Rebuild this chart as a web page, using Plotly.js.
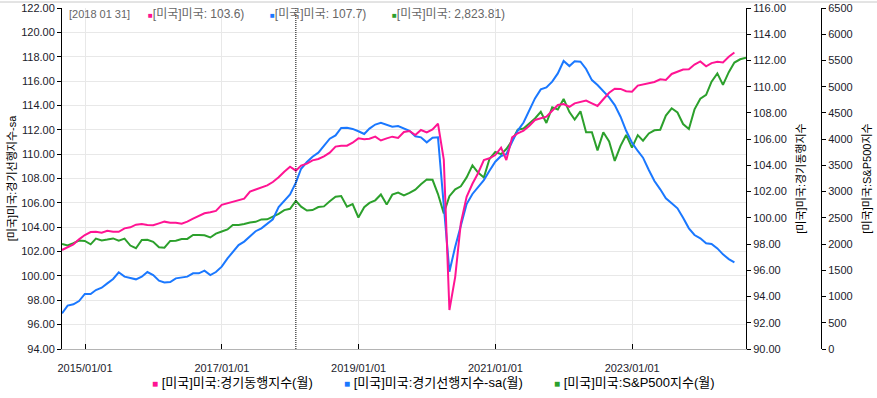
<!DOCTYPE html>
<html>
<head>
<meta charset="utf-8">
<script src="https://cdn.plot.ly/plotly-3.0.1.min.js"></script>
<style>html,body{margin:0;padding:0;background:#fff;}#chart{width:877px;height:398px;}</style>
</head>
<body>
<div id="chart"></div>
<script>
// Monthly series, month-end dates, first month 2014-08
const startYear = 2014, startMonth = 8;

// [미국]미국:경기동행지수 (right axis 1)
const coincident = [97.55,97.78,97.98,98.36,98.69,98.92,98.94,98.87,99.02,98.94,98.94,99.20,99.28,99.48,99.53,99.45,99.43,99.58,99.71,99.63,99.63,99.55,99.71,99.94,100.17,100.35,100.43,100.53,100.99,101.11,101.20,101.35,101.46,102.00,102.17,102.35,102.48,102.73,103.09,103.52,103.90,103.60,103.98,104.13,104.38,104.49,104.69,104.97,105.43,105.50,105.50,105.73,106.06,106.00,106.03,106.19,105.90,106.06,106.19,106.09,106.55,106.62,106.32,106.70,106.52,106.75,107.18,104.45,92.97,95.50,99.60,101.60,102.60,103.40,104.41,104.54,104.79,105.35,104.41,106.14,106.45,106.65,107.00,107.46,107.58,107.71,108.17,108.60,108.68,108.47,108.73,108.83,108.94,108.73,108.53,109.04,109.54,109.85,109.83,109.65,109.62,110.08,110.18,110.26,110.36,110.56,110.51,110.97,111.13,111.31,111.33,111.69,111.93,111.55,111.80,111.90,111.85,112.28,112.61];

// [미국]미국:경기선행지수-sa (left axis)
const leading = [96.93,97.56,97.67,97.94,98.52,98.52,98.84,99.03,99.39,99.75,100.30,99.94,99.83,99.72,99.94,100.32,100.07,99.61,99.47,99.50,99.80,99.86,99.94,100.21,100.21,100.43,100.07,100.32,100.76,101.44,101.98,102.53,102.82,103.23,103.67,103.91,104.32,104.65,105.66,106.15,106.70,107.66,108.80,109.35,109.79,110.12,110.66,111.27,111.54,112.15,112.17,112.07,111.88,111.66,112.10,112.43,112.57,112.43,112.25,112.30,112.12,111.92,111.46,111.38,110.97,111.35,111.38,106.00,100.35,102.40,104.18,105.90,106.73,107.27,107.87,108.64,109.38,109.85,110.00,111.02,111.93,112.60,113.62,114.58,115.32,115.48,115.95,116.63,117.65,117.23,117.62,117.59,116.99,116.08,115.67,115.18,114.66,114.03,113.07,111.92,110.94,110.26,109.71,108.70,107.79,107.11,106.37,105.96,105.55,104.78,103.91,103.36,103.09,102.68,102.62,102.26,101.77,101.38,101.11];

// [미국]미국:S&P500지수 (right axis 2)
const sp500 = [2003.37,1972.29,2018.05,2067.56,2058.90,
1994.99,2104.50,2067.89,2085.51,2107.39,2063.11,2103.84,1972.18,1920.03,2079.36,2080.41,2043.94,
1940.24,1932.23,2059.74,2065.30,2096.95,2098.86,2173.60,2170.95,2168.27,2126.15,2198.81,2238.83,
2278.87,2363.64,2362.72,2384.20,2411.80,2423.41,2470.30,2471.65,2519.36,2575.26,2647.58,2673.61,
2823.81,2713.83,2640.87,2648.05,2705.27,2718.37,2816.29,2901.52,2913.98,2711.74,2760.17,2506.85,
2704.10,2784.49,2834.40,2945.83,2752.06,2941.76,2980.38,2926.46,2976.74,3037.56,3140.98,3230.78,
3225.52,2954.22,2584.59,2912.43,3044.31,3100.29,3271.12,3500.31,3363.00,3269.96,3621.63,3756.07,
3714.24,3811.15,3972.89,4181.17,4204.11,4297.50,4395.26,4522.68,4307.54,4605.38,4567.00,4766.18,
4515.55,4373.94,4530.41,4131.93,4132.15,3785.38,4130.29,3955.00,3585.62,3871.98,4080.11,3839.50,
4076.60,3970.15,4109.31,4169.48,4179.83,4450.38,4588.96,4507.66,4288.05,4193.80,4567.80,4769.83,
4845.65,5096.27,5254.35,5035.69,5277.51,5460.48,5522.30,5554.25];

const seriesNames = ['[미국]미국:경기동행지수(월)','[미국]미국:경기선행지수-sa(월)','[미국]미국:S&P500지수(월)'];
const axisTitles = ['[미국]미국:경기선행지수-sa','[미국]미국:경기동행지수','[미국]미국:S&P500지수'];
const headerDate = '[2018 01 31]';
const headerValues = ['[미국]미국: 103.6)','[미국]미국: 107.7)','[미국]미국: 2,823.81)'];
const cursorDate = '2018-01-31';
const xRange = ['2014-08-31','2024-08-31'];

function monthEnds(n){
  const out=[];
  for(let i=0;i<n;i++){
    const d=new Date(Date.UTC(startYear, startMonth-1+i+1, 0));
    out.push(d.toISOString().slice(0,10));
  }
  return out;
}
const dates = monthEnds(sp500.length);

const PINK='#ff1493', BLUE='#1a78ff', GREEN='#2ca02c';
const FONT='Liberation Sans, Noto Sans CJK KR, sans-serif';
const W=877,H=398, L=62, R=56, T=8, B=49;
const PW=W-L-R, PH=H-T-B;
const px=x=>(x-L)/PW, py=y=>(H-B-y)/PH;

const traces=[
  {x:dates, y:sp500, yaxis:'y', type:'scatter', mode:'lines', line:{color:GREEN,width:2}, name:seriesNames[2], hoverinfo:'skip'},
  {x:dates.slice(0,leading.length), y:leading, yaxis:'y2', type:'scatter', mode:'lines', line:{color:BLUE,width:2}, name:seriesNames[1], hoverinfo:'skip'},
  {x:dates.slice(0,coincident.length), y:coincident, yaxis:'y3', type:'scatter', mode:'lines', line:{color:PINK,width:2}, name:seriesNames[0], hoverinfo:'skip'}
];

const tickfont={family:FONT,size:11,color:'#1b1b2b'};
const titlefont={family:FONT,size:11,color:'#000'};
const layout={
  width:W,height:H,margin:{l:L,r:R,t:T,b:B},
  paper_bgcolor:'#fff',plot_bgcolor:'#fff',showlegend:false,
  font:{family:FONT,size:11},
  xaxis:{type:'date',domain:[0,684/PW],range:xRange,tick0:'2015-01-01',dtick:'M24',tickformat:'%Y/%m/%d',
    ticks:'inside',ticklen:5,tickcolor:'#000',showline:true,linecolor:'#b4b4b4',linewidth:1,
    showgrid:true,gridcolor:'#e8e8e8',zeroline:false,tickfont:tickfont,ticklabelstandoff:9,automargin:false},
  yaxis:{range:[0,6500],dtick:500,tick0:0,tickformat:'d',side:'right',anchor:'free',position:1,
    showline:true,linecolor:'#000',ticks:'outside',ticklen:4,tickcolor:'#000',showgrid:false,zeroline:false,
    tickfont:tickfont,title:{text:axisTitles[2],font:titlefont,standoff:11},automargin:false},
  yaxis2:{range:[94,122],dtick:2,tick0:94,tickformat:'.2f',side:'left',anchor:'x',overlaying:'y',
    showline:true,linecolor:'#000',ticks:'outside',ticklen:4,tickcolor:'#000',showgrid:true,gridcolor:'#e8e8e8',zeroline:false,
    tickfont:tickfont,title:{text:axisTitles[0],font:titlefont,standoff:2},automargin:false},
  yaxis3:{range:[90,116],dtick:2,tick0:90,tickformat:'.2f',side:'right',anchor:'x',overlaying:'y',
    showline:true,linecolor:'#000',ticks:'outside',ticklen:4,tickcolor:'#000',showgrid:false,zeroline:false,
    tickfont:tickfont,title:{text:axisTitles[1],font:titlefont,standoff:11},automargin:false},
  shapes:[
    {type:'line',xref:'x',yref:'paper',x0:cursorDate,x1:cursorDate,y0:0,y1:1,line:{color:'#000',width:1,dash:'1px,1px'}},
    {type:'line',xref:'paper',yref:'paper',x0:px(0),x1:px(W),y0:py(2),y1:py(2),line:{color:'#c8c8c8',width:1}}
  ],
  annotations:[
    {xref:'paper',yref:'paper',x:px(67),y:py(14),xanchor:'left',yanchor:'middle',showarrow:false,text:headerDate,font:{family:FONT,size:11,color:'#666'}},
    {xref:'paper',yref:'paper',x:px(146),y:py(14),xanchor:'left',yanchor:'middle',showarrow:false,text:"<span style='color:"+PINK+";font-size:8px'>■</span>"+headerValues[0],font:{family:FONT,size:12,color:'#666'}},
    {xref:'paper',yref:'paper',x:px(268),y:py(14),xanchor:'left',yanchor:'middle',showarrow:false,text:"<span style='color:"+BLUE+";font-size:8px'>■</span>"+headerValues[1],font:{family:FONT,size:12,color:'#666'}},
    {xref:'paper',yref:'paper',x:px(390),y:py(14),xanchor:'left',yanchor:'middle',showarrow:false,text:"<span style='color:"+GREEN+";font-size:8px'>■</span>"+headerValues[2],font:{family:FONT,size:12,color:'#666'}},
    {xref:'paper',yref:'paper',x:px(150),y:py(383),xanchor:'left',yanchor:'middle',showarrow:false,text:"<span style='color:"+PINK+";font-size:10px'>■</span> "+seriesNames[0],font:{family:FONT,size:13,color:'#000'}},
    {xref:'paper',yref:'paper',x:px(342),y:py(383),xanchor:'left',yanchor:'middle',showarrow:false,text:"<span style='color:"+BLUE+";font-size:10px'>■</span> "+seriesNames[1],font:{family:FONT,size:13,color:'#000'}},
    {xref:'paper',yref:'paper',x:px(552),y:py(383),xanchor:'left',yanchor:'middle',showarrow:false,text:"<span style='color:"+GREEN+";font-size:10px'>■</span> "+seriesNames[2],font:{family:FONT,size:13,color:'#000'}}
  ]
};
Plotly.newPlot('chart',traces,layout,{displayModeBar:false,staticPlot:true});
</script>
</body>
</html>
